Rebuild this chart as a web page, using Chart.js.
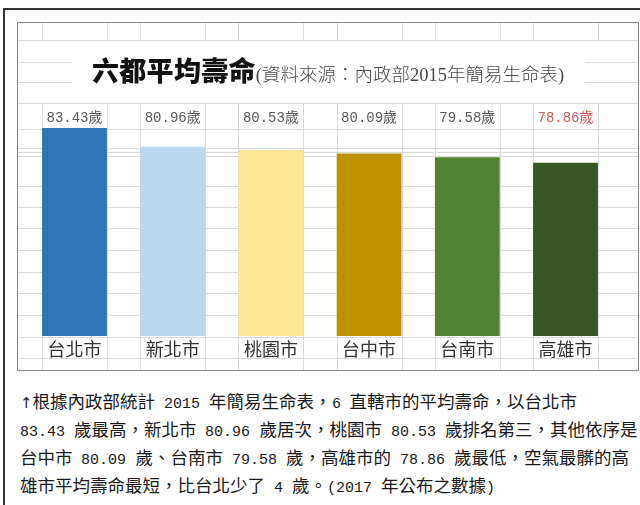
<!DOCTYPE html>
<html>
<head>
<meta charset="utf-8">
<script src="https://cdn.jsdelivr.net/npm/chart.js@4"></script>
<style>
  @font-face {
    font-family: "HalfMono";
    src: local("Liberation Mono");
    size-adjust: 83%;
  }
  html, body { margin: 0; padding: 0; background: #fff; overflow: hidden; }
  body { width: 640px; height: 505px; position: relative; }
  #frame {
    position: absolute; left: 3px; top: 8px; width: 700px; height: 600px;
    border-left: 2px solid #333; border-top: 2px solid #333;
  }
  #box {
    position: absolute; left: 17px; top: 22px; width: 620px; height: 347px;
    border: 1px solid #8c8c8c; background: #fff;
  }
  #box canvas { position: absolute; left: 0; top: 0; }
  #title {
    position: absolute; left: 74px; top: 30px; white-space: nowrap;
    line-height: 34px;
  }
  #title b {
    font-family: "Noto Sans CJK TC", sans-serif; font-weight: 900;
    font-size: 27px; color: #111; letter-spacing: 0.3px;
  }
  #title span {
    font-family: "Liberation Serif", "Noto Sans CJK TC", serif;
    font-size: 18.5px; color: #4a4a4a; font-weight: 300;
  }
  #note {
    position: absolute; left: 20px; top: 389px;
    font-family: "HalfMono", "Liberation Mono", "Noto Sans CJK TC", monospace;
    font-size: 17.5px; line-height: 28px; color: #1a1a1a;
  }
  #note div { white-space: nowrap; }
  #note .arrow { font-family: "DejaVu Sans", sans-serif; font-size: 15px; color: #1a1a1a; }
</style>
</head>
<body>
<div id="frame"></div>
<div id="box">
  <canvas id="lifeChart" width="620" height="347"></canvas>
  <div id="title"><b>六都平均壽命</b><span>(資料來源：內政部2015年簡易生命表)</span></div>
</div>
<div id="note">
  <div><span class="arrow">&#x2191;&#xFE0E;</span>根據內政部統計 2015 年簡易生命表，6 直轄市的平均壽命，以台北市</div>
  <div>83.43 歲最高，新北市 80.96 歲居次，桃園市 80.53 歲排名第三，其他依序是</div>
  <div>台中市 80.09 歲、台南市 79.58 歲，高雄市的 78.86 歲最低，空氣最髒的高</div>
  <div>雄市平均壽命最短，比台北少了 4 歲。(2017 年公布之數據)</div>
</div>
<script>
const cities = ['台北市', '新北市', '桃園市', '台中市', '台南市', '高雄市'];
const lifeExpectancy = [83.43, 80.96, 80.53, 80.09, 79.58, 78.86];
const barColors = ['#2e75b6', '#bdd7ee', '#ffe699', '#bf9000', '#548235', '#375623'];
const labelColors = ['#595959', '#595959', '#595959', '#595959', '#595959', '#d05a5a'];

// spreadsheet cell lines behind the chart (canvas px)
const sheetRows = [17, 80, 106, 125, 129, 133, 163, 184, 205, 227, 249, 270, 292, 314, 335];
const sheetSideRows = [39, 59];
const gridColor = '#dadada';

const sheetGrid = {
    id: 'sheetGrid',
    beforeDatasetsDraw(chart) {
        const ctx = chart.ctx;
        const w = chart.width, h = chart.height;
        ctx.save();
        ctx.strokeStyle = gridColor;
        ctx.lineWidth = 1;
        ctx.beginPath();
        sheetRows.forEach(y => {
            ctx.moveTo(0, y + 0.5);
            ctx.lineTo(w, y + 0.5);
        });
        // rows only visible beside the merged title cell
        sheetSideRows.forEach(y => {
            ctx.moveTo(0, y + 0.5);
            ctx.lineTo(54, y + 0.5);
            ctx.moveTo(567, y + 0.5);
            ctx.lineTo(w, y + 0.5);
        });
        // column lines follow the bar edges
        chart.getDatasetMeta(0).data.forEach(bar => {
            [bar.x - bar.width / 2, bar.x + bar.width / 2].forEach(x => {
                const px = Math.round(x) + 0.5;
                ctx.moveTo(px, 0);
                ctx.lineTo(px, 17);
                ctx.moveTo(px, 80);
                ctx.lineTo(px, h);
            });
        });
        ctx.stroke();
        ctx.restore();
    }
};

const valueLabels = {
    id: 'valueLabels',
    afterDatasetsDraw(chart) {
        const ctx = chart.ctx;
        const rowY = chart.chartArea.top + 17;
        ctx.save();
        ctx.font = "14px 'Liberation Mono', 'Noto Sans CJK TC', monospace";
        ctx.textAlign = 'center';
        ctx.textBaseline = 'middle';
        chart.getDatasetMeta(0).data.forEach((bar, i) => {
            ctx.fillStyle = labelColors[i];
            ctx.fillText(lifeExpectancy[i].toFixed(2) + '歲', bar.x, rowY);
        });
        ctx.restore();
    }
};

new Chart(document.getElementById('lifeChart'), {
    type: 'bar',
    data: {
        labels: cities,
        datasets: [{
            data: lifeExpectancy,
            backgroundColor: barColors,
            borderWidth: 0,
            barPercentage: 0.66,
            categoryPercentage: 1
        }]
    },
    options: {
        responsive: false,
        animation: false,
        devicePixelRatio: 1,
        layout: {
            padding: { left: 7.4, right: 23.4, top: 78, bottom: 8 }
        },
        plugins: {
            legend: { display: false },
            tooltip: { enabled: false },
            title: { display: false }
        },
        scales: {
            x: {
                grid: { display: false, drawTicks: false },
                border: { display: false },
                ticks: {
                    color: '#333',
                    padding: 2.2,
                    font: { family: "'Noto Sans CJK TC', sans-serif", size: 18 }
                }
            },
            y: {
                display: false,
                min: 56,
                max: 87
            }
        }
    },
    plugins: [sheetGrid, valueLabels]
});
</script>
</body>
</html>
